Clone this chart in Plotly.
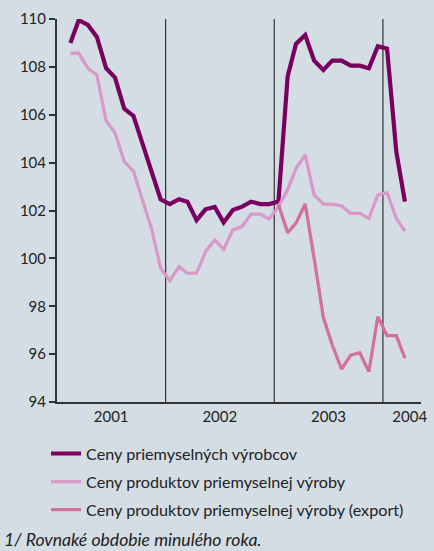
import pandas as pd
import plotly.graph_objects as go

# Monthly observations Jan 2001 - Feb 2004 (plotted mid-month)
months = pd.date_range("2001-01-15", periods=38, freq="MS") + pd.Timedelta(days=14)

producers = [109.0, 109.95, 109.75, 109.25, 107.95, 107.55, 106.25, 105.95, 104.8, 103.6,
             102.47, 102.27, 102.47, 102.37, 101.6, 102.05, 102.15, 101.5, 102.02, 102.16,
             102.37, 102.27, 102.27, 102.37, 107.6, 108.96, 109.33, 108.26, 107.87, 108.26,
             108.26, 108.05, 108.05, 107.94, 108.86, 108.76, 104.46, 102.37]

industrial = [108.57, 108.57, 107.94, 107.66, 105.75, 105.25, 104.04, 103.65, 102.44, 101.23,
              99.59, 99.07, 99.65, 99.38, 99.38, 100.28, 100.77, 100.38, 101.19, 101.33,
              101.85, 101.85, 101.65, 102.16, 102.88, 103.76, 104.32, 102.65, 102.27, 102.27,
              102.19, 101.88, 101.88, 101.67, 102.65, 102.74, 101.67, 101.14]

export = [None] * 23 + [102.25, 101.07, 101.47, 102.27, 100.0, 97.53, 96.38, 95.38, 95.96,
                        96.06, 95.27, 97.56, 96.77, 96.77, 95.83]

series_names = ["Ceny priemyselných výrobcov",
                "Ceny produktov priemyselnej výroby",
                "Ceny produktov priemyselnej výroby (export)"]
series_colors = ["#7a0060", "#d898c8", "#d2709e"]
series_widths = [4.2, 3.3, 3.3]

year_bounds = ["2002-01-01", "2003-01-01", "2004-01-01"]
year_tick_vals = ["2001-07-02", "2002-07-02", "2003-07-02", "2004-03-31"]
year_tick_text = ["2001", "2002", "2003", "2004"]
y_ticks = [94, 96, 98, 100, 102, 104, 106, 108, 110]

footnote = "1/ Rovnaké obdobie minulého roka."

bg = "#d4dde4"
axis_col = "#333333"
font_family = "Lato, 'Open Sans', sans-serif"

fig = go.Figure()
for vals, name, col, w in zip([producers, industrial, export], series_names, series_colors, series_widths):
    fig.add_trace(go.Scatter(x=months, y=vals, mode="lines", name=name,
                             line=dict(color=col, width=w), legendgroup=name))

for xb in year_bounds:
    fig.add_shape(type="line", xref="x", yref="paper", x0=xb, x1=xb, y0=0, y1=1,
                  line=dict(color=axis_col, width=1.2), layer="below")

fig.add_annotation(text="<i>" + footnote + "</i>", xref="paper", yref="paper", x=-0.152, y=-0.36,
                   xanchor="left", yanchor="middle", showarrow=False,
                   font=dict(family=font_family, size=17.6, color="#222222"))

fig.update_layout(
    width=434, height=551,
    margin=dict(l=57, r=13, t=19, b=149, autoexpand=False),
    paper_bgcolor=bg, plot_bgcolor=bg,
    font=dict(family=font_family, size=15, color="#222222"),
    showlegend=True,
    legend=dict(x=-0.03, y=-0.09, xanchor="left", yanchor="top",
                bgcolor="rgba(0,0,0,0)", tracegroupgap=4,
                font=dict(family=font_family, size=16.2, color="#222222")),
    xaxis=dict(type="date", range=["2001-01-01", "2004-05-08"],
               tickvals=year_tick_vals, ticktext=year_tick_text, ticks="",
               showgrid=False, zeroline=False, showline=True, linecolor=axis_col, linewidth=2,
               tickfont=dict(size=15, color="#222222")),
    yaxis=dict(range=[94, 110], tickvals=y_ticks, ticks="outside", ticklen=6,
               tickcolor=axis_col, tickwidth=1.5, showgrid=False, zeroline=False,
               showline=True, linecolor=axis_col, linewidth=2,
               tickfont=dict(size=15, color="#222222")),
)

fig.write_html("out.html", config={"displayModeBar": False},
               post_script="document.body.style.margin='0';")
